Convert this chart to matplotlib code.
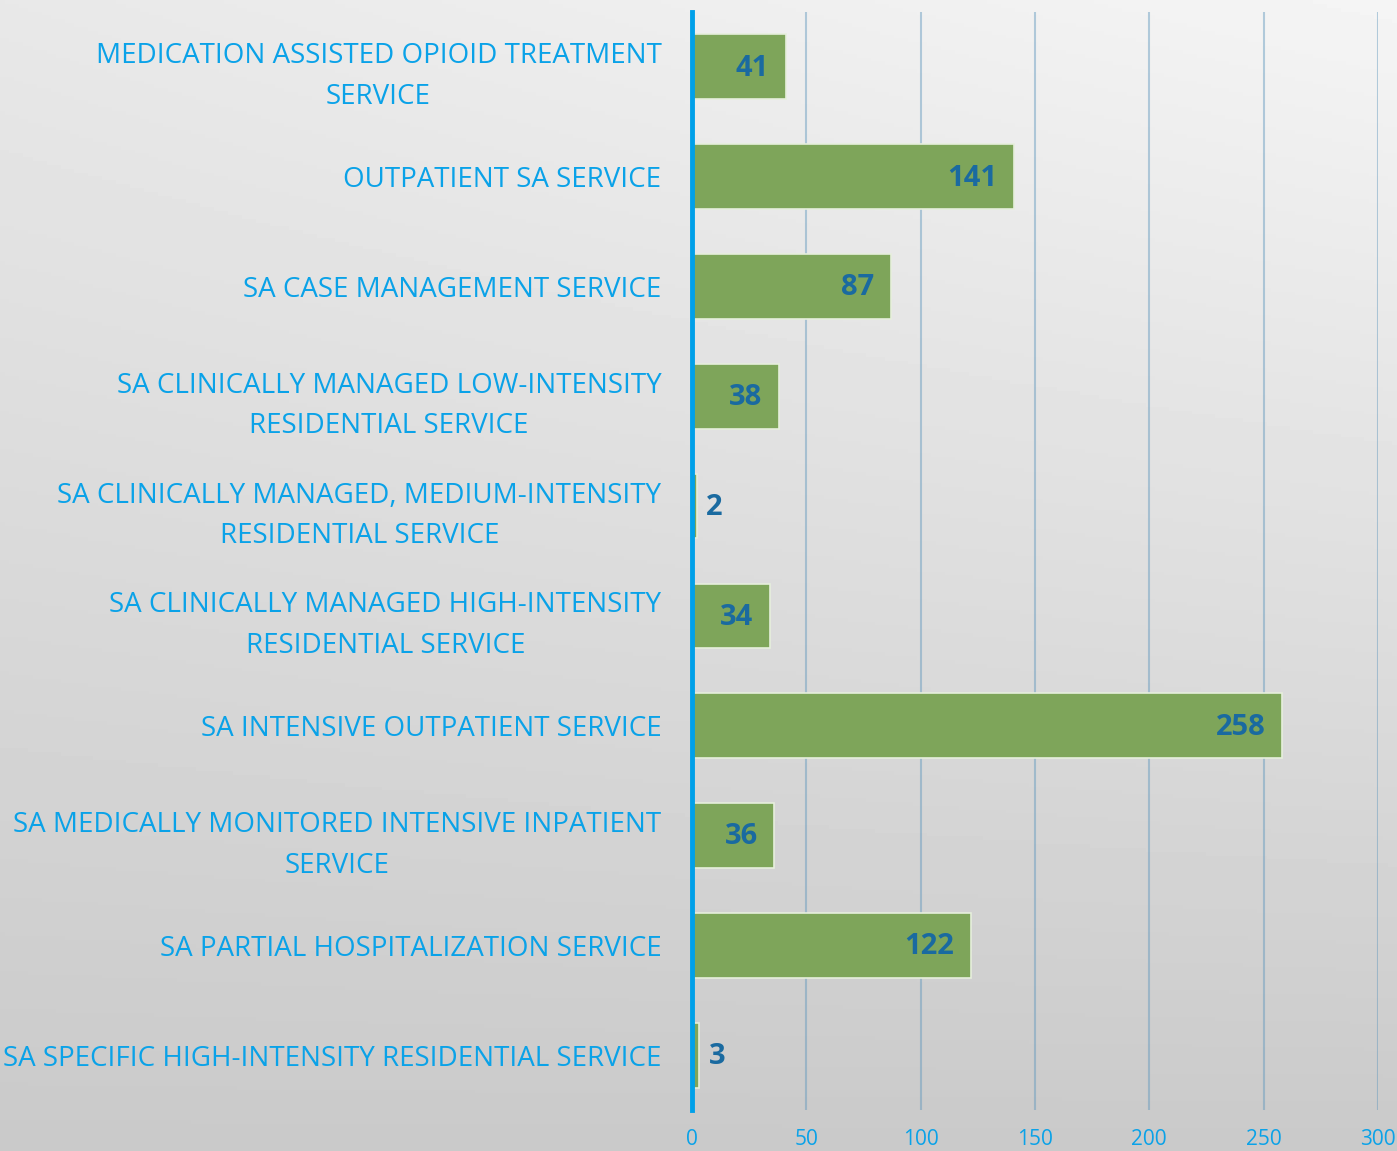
import numpy as np
import matplotlib
matplotlib.use("Agg")
import matplotlib.pyplot as plt

services = [
    "MEDICATION ASSISTED OPIOID TREATMENT\nSERVICE",
    "OUTPATIENT SA SERVICE",
    "SA CASE MANAGEMENT SERVICE",
    "SA CLINICALLY MANAGED LOW-INTENSITY\nRESIDENTIAL SERVICE",
    "SA CLINICALLY MANAGED, MEDIUM-INTENSITY\nRESIDENTIAL SERVICE",
    "SA CLINICALLY MANAGED HIGH-INTENSITY\nRESIDENTIAL SERVICE",
    "SA INTENSIVE OUTPATIENT SERVICE",
    "SA MEDICALLY MONITORED INTENSIVE INPATIENT\nSERVICE",
    "SA PARTIAL HOSPITALIZATION SERVICE",
    "SA SPECIFIC HIGH-INTENSITY RESIDENTIAL SERVICE",
]
counts = [41, 141, 87, 38, 2, 34, 258, 36, 122, 3]
x_ticks = [0, 50, 100, 150, 200, 250, 300]

label_blue = "#0aa2e8"
value_blue = "#1a6aa0"
bar_green = "#7ea55a"

fig = plt.figure(figsize=(13.97, 11.51), dpi=100)

# background gradient: light at top right, darker grey towards bottom
bg = fig.add_axes([0, 0, 1, 1], zorder=-10)
yy, xx = np.mgrid[0:1:300j, 0:1:300j]
shade = 0.96 - 0.17 * yy - 0.05 * (1 - xx) * (1 - yy)
bg.imshow(shade, cmap="gray", vmin=0, vmax=1, aspect="auto",
          extent=[0, 1, 0, 1], origin="upper")
bg.axis("off")

ax = fig.add_axes([0.4953, 0.0356, 0.4911, 0.954])
ax.patch.set_alpha(0)

ypos = np.arange(len(services))
ax.barh(ypos, counts, height=0.59, color=bar_green,
        edgecolor="#e6efdc", linewidth=1.2, zorder=3)

for y, v in zip(ypos, counts):
    if v > 10:
        ax.annotate(str(v), (v, y), xytext=(-12, -1), textcoords="offset points",
                    ha="right", va="center", fontsize=21, fontweight="bold",
                    color=value_blue, family="Open Sans", zorder=4)
    else:
        ax.annotate(str(v), (v, y), xytext=(7, -1), textcoords="offset points",
                    ha="left", va="center", fontsize=21, fontweight="bold",
                    color=value_blue, family="Open Sans", zorder=4)

ax.set_xlim(0, 300)
ax.set_ylim(len(services) - 0.5, -0.5)
ax.set_xticks(x_ticks)
ax.set_yticks(ypos)
ax.set_yticklabels(services, fontsize=20, color=label_blue, family="Open Sans",
                   linespacing=1.6)
for lbl in ax.get_yticklabels():
    lbl.set_multialignment("center")
ax.tick_params(axis="y", length=0, pad=22)
ax.tick_params(axis="x", length=0, pad=14, labelsize=15, labelcolor=label_blue)
for lbl in ax.get_xticklabels():
    lbl.set_family("Open Sans")

ax.grid(axis="x", color="#5f97bd", alpha=0.45, linewidth=1.5, zorder=1)
for s in ["top", "right", "bottom"]:
    ax.spines[s].set_visible(False)
ax.spines["left"].set_color("#00a0e9")
ax.spines["left"].set_linewidth(3.5)
ax.spines["left"].set_zorder(5)

fig.savefig("out.png", dpi=100)
